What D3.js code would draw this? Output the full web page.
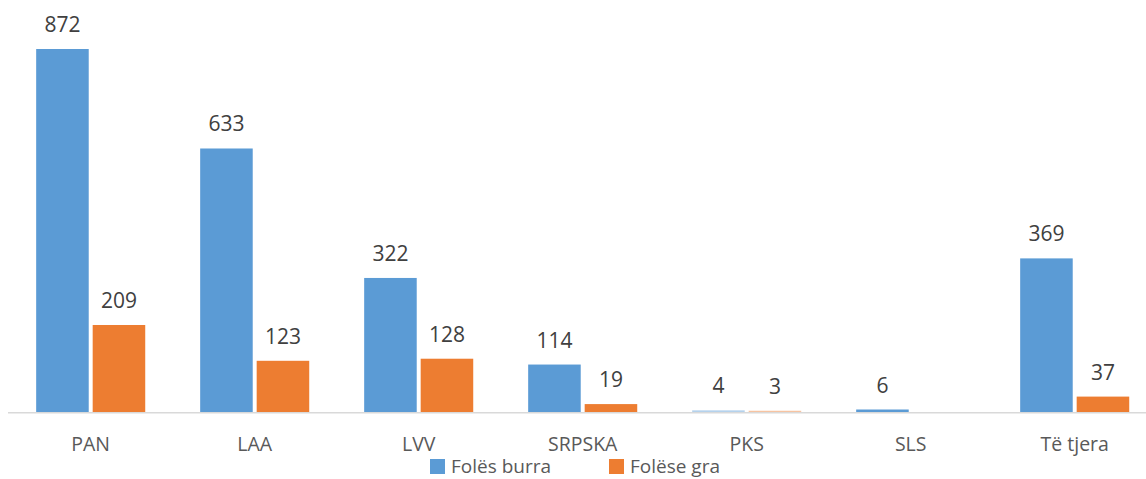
<!doctype html>
<head>
	<meta charset="utf-8">
	<title>Folës sipas partive</title>
	<script src="https://d3js.org/d3.v7.min.js"></script>
	<style>
		body { margin: 0; background: #fff; }
		text { font-family: "Open Sans", "Noto Sans", sans-serif; }
	</style>
</head>
<body>
	<svg id="chart" width="1146" height="479"></svg>
	<script>
		const parties = ["PAN", "LAA", "LVV", "SRPSKA", "PKS", "SLS", "Të tjera"]
		const burra = [872, 633, 322, 114, 4, 6, 369]
		const gra = [209, 123, 128, 19, 3, null, 37]
		const seriesNames = ["Folës burra", "Folëse gra"]
		const colors = ["#5B9BD5", "#ED7D31"]

		const svg = d3.select("#chart")
		const baseY = 412

		// categories run a bit past the right edge, like in the original
		const x = d3.scaleBand().domain(parties).range([8.7, 8.7 + 164 * 7]).paddingInner(0.335).paddingOuter(0.1675)
		const xs = d3.scaleBand().domain([0, 1]).range([0, x.bandwidth()]).paddingInner(0.07)
		const y = d3.scaleLinear().domain([0, 872]).range([baseY, 49])

		const rows = []
		parties.forEach((p, i) => {
			[burra[i], gra[i]].forEach((v, s) => {
				if (v != null) rows.push({party: p, s: s, v: v})
			})
		})

		svg.append("g").selectAll("rect").data(rows).join("rect")
			.attr("x", d => x(d.party) + xs(d.s))
			.attr("y", d => y(d.v))
			.attr("width", xs.bandwidth())
			.attr("height", d => baseY - y(d.v))
			.attr("fill", d => colors[d.s])
			.attr("fill-opacity", d => d.v < 5 ? 0.45 : 1)

		// axis line
		svg.append("line")
			.attr("x1", 8).attr("x2", 1146)
			.attr("y1", baseY + 0.8).attr("y2", baseY + 0.8)
			.attr("stroke", "#D9D9D9").attr("stroke-width", 1.6)

		svg.append("g").selectAll("text").data(rows).join("text")
			.attr("x", d => x(d.party) + xs(d.s) + xs.bandwidth() / 2)
			.attr("y", d => y(d.v) - 17)
			.attr("text-anchor", "middle")
			.attr("font-size", 21)
			.attr("fill", "#404040")
			.text(d => d.v)

		svg.append("g").selectAll("text").data(parties).join("text")
			.attr("x", d => x(d) + x.bandwidth() / 2)
			.attr("y", 451)
			.attr("text-anchor", "middle")
			.attr("font-size", 19.5)
			.attr("fill", "#595959")
			.text(d => d)

		// legend
		const legX = [430, 609]
		const leg = svg.append("g").selectAll("g").data(seriesNames).join("g")
			.attr("transform", (d, i) => `translate(${legX[i]},0)`)
		leg.append("rect").attr("x", 0).attr("y", 459).attr("width", 15).attr("height", 15)
			.attr("fill", (d, i) => colors[i])
		leg.append("text").attr("x", 21).attr("y", 473)
			.attr("font-size", 19).attr("fill", "#595959")
			.text(d => d)
	</script>
</body>
